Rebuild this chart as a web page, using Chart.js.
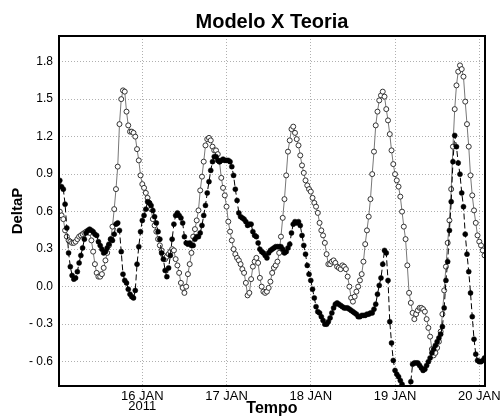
<!DOCTYPE html>
<html>
<head>
<meta charset="utf-8">
<script src="https://cdn.jsdelivr.net/npm/chart.js@4.4.1/dist/chart.umd.min.js"></script>
<style>
html,body{margin:0;padding:0;background:#fff;}
#wrap{width:503px;height:416px;position:relative;}
</style>
</head>
<body>
<div id="wrap"><canvas id="c" width="503" height="416"></canvas></div>
<script>
// ---- text ----
const chartTitle = 'Modelo X Teoria';
const xTitle = 'Tempo';
const yTitle = 'DeltaP';

// ---- x axis: hours counted from 15 JAN 2011 00:00 ----
const dayTicks = [24, 48, 72, 96, 120];
const dayLabels = [['16 JAN', '2011'], '17 JAN', '18 JAN', '19 JAN', '20 JAN'];
const firstHour = 0.5;   // first sample time (hours)
const stepHours = 0.5;   // sampling interval (hours)

// ---- Teoria (open circles), one array per day ----
const teoria15 = [0.60,0.57,0.54,0.45,0.40,0.37,0.36,0.35,0.35,0.36,0.38,0.40,0.41,0.42,0.43,0.44,0.44,0.43,0.37,0.28,0.18,0.11,0.08,0.08,0.10,0.15,0.21,0.27,0.33,0.38,0.48,0.62,0.78,0.96,1.30,1.50,1.57,1.56,1.40,1.29,1.24,1.24,1.23,1.20,1.10,1.01,0.89,0.82];
const teoria16 = [0.79,0.75,0.71,0.67,0.62,0.54,0.49,0.44,0.38,0.33,0.29,0.25,0.22,0.24,0.26,0.28,0.30,0.29,0.22,0.17,0.11,0.03,-0.01,-0.05,0.00,0.10,0.18,0.27,0.40,0.46,0.53,0.61,0.77,0.88,1.00,1.13,1.18,1.19,1.17,1.12,1.09,1.09,1.06,1.00,0.87,0.79,0.73,0.64];
const teoria17 = [0.52,0.44,0.37,0.30,0.26,0.23,0.21,0.18,0.14,0.11,0.03,-0.07,-0.05,0.06,0.16,0.20,0.23,0.19,0.07,0.00,-0.04,-0.05,-0.04,-0.01,0.04,0.11,0.15,0.17,0.20,0.27,0.40,0.55,0.70,0.89,1.08,1.17,1.26,1.28,1.23,1.18,1.13,1.05,0.97,0.91,0.85,0.81,0.78,0.76];
const teoria18 = [0.71,0.67,0.64,0.59,0.51,0.45,0.41,0.35,0.26,0.18,0.18,0.20,0.21,0.19,0.16,0.15,0.14,0.17,0.16,0.14,0.08,0.00,-0.09,-0.12,-0.08,-0.04,0.00,0.05,0.10,0.20,0.34,0.45,0.56,0.70,0.90,1.08,1.29,1.40,1.49,1.53,1.56,1.52,1.42,1.33,1.22,1.09,0.98,0.90];
const teoria19 = [0.85,0.80,0.72,0.60,0.48,0.38,0.17,-0.05,-0.13,-0.21,-0.26,-0.22,-0.19,-0.17,-0.17,-0.18,-0.20,-0.26,-0.33,-0.40,-0.50,-0.55,-0.53,-0.49,-0.44,-0.36,-0.22,-0.03,0.16,0.35,0.53,0.78,1.12,1.42,1.61,1.72,1.77,1.74,1.68,1.48,1.30,1.12,0.89,0.73,0.61,0.51,0.41,0.36,0.33,0.29,0.25];

// ---- Modelo (filled dots, dashed line), one array per day ----
const modelo15 = [0.85,0.80,0.78,0.66,0.47,0.27,0.16,0.09,0.06,0.07,0.12,0.19,0.25,0.31,0.38,0.43,0.45,0.46,0.45,0.44,0.42,0.41,0.36,0.33,0.30,0.27,0.28,0.31,0.34,0.38,0.37,0.42,0.50,0.51,0.45,0.28,0.10,0.05,0.03,-0.02,-0.06,-0.08,-0.09,-0.03,0.18,0.32,0.44,0.53];
const modelo16 = [0.57,0.62,0.68,0.67,0.65,0.61,0.56,0.51,0.44,0.38,0.27,0.22,0.13,0.08,0.15,0.25,0.38,0.50,0.57,0.59,0.57,0.55,0.51,0.40,0.35,0.34,0.35,0.33,0.33,0.38,0.40,0.40,0.43,0.49,0.57,0.65,0.75,0.84,0.93,1.00,1.04,1.04,1.01,1.00,1.01,1.02,1.01,1.01];
const modelo17 = [1.01,1.00,0.96,0.89,0.78,0.69,0.59,0.56,0.55,0.54,0.52,0.49,0.50,0.50,0.44,0.41,0.40,0.35,0.30,0.28,0.27,0.25,0.23,0.27,0.29,0.30,0.31,0.32,0.32,0.32,0.32,0.30,0.27,0.28,0.31,0.34,0.43,0.50,0.52,0.51,0.52,0.49,0.41,0.33,0.26,0.17,0.10,0.05];
const modelo18 = [-0.02,-0.09,-0.16,-0.20,-0.21,-0.24,-0.27,-0.30,-0.30,-0.28,-0.25,-0.21,-0.17,-0.14,-0.13,-0.14,-0.15,-0.16,-0.17,-0.17,-0.17,-0.18,-0.19,-0.20,-0.21,-0.22,-0.24,-0.24,-0.23,-0.23,-0.23,-0.22,-0.22,-0.21,-0.21,-0.18,-0.14,-0.06,0.01,0.07,0.18,0.29,0.27,0.05,-0.28,-0.45,-0.59,-0.67];
const modelo19 = [-0.70,-0.72,-0.75,-0.78,-0.82,-0.86,-0.87,-0.83,-0.76,-0.62,-0.61,-0.61,-0.61,-0.63,-0.65,-0.67,-0.66,-0.63,-0.60,-0.57,-0.53,-0.50,-0.47,-0.44,-0.41,-0.38,-0.32,-0.17,0.05,0.20,0.45,0.68,1.00,1.21,1.12,0.99,0.90,0.75,0.64,0.42,0.26,0.12,-0.05,-0.24,-0.42,-0.54,-0.59,-0.60,-0.60,-0.59,-0.57];

const teoria = [].concat(teoria15, teoria16, teoria17, teoria18, teoria19);
const modelo = [].concat(modelo15, modelo16, modelo17, modelo18, modelo19);
const toPoints = arr => arr.map((v, i) => ({x: firstHour + i * stepHours, y: v}));

const FONT = 'Liberation Sans, Arial, sans-serif';
const GRID = '#b0b0b0';

const framePlugin = {
  id: 'frame',
  afterDatasetsDraw(chart) {
    const {ctx, chartArea: a} = chart;
    ctx.save();
    ctx.strokeStyle = '#000';
    ctx.lineWidth = 2;
    ctx.strokeRect(a.left, a.top, a.right - a.left, a.bottom - a.top);
    ctx.restore();
  }
};

new Chart(document.getElementById('c'), {
  type: 'line',
  data: {
    datasets: [
      {
        label: 'Modelo',
        data: toPoints(modelo),
        borderColor: '#000',
        borderWidth: 1,
        borderDash: [6, 3],
        pointRadius: 2.5,
        pointBackgroundColor: '#000',
        pointBorderColor: '#000',
        pointBorderWidth: 0.5,
        tension: 0,
        fill: false
      },
      {
        label: 'Teoria',
        data: toPoints(teoria),
        borderColor: '#777',
        borderWidth: 1,
        pointRadius: 2.5,
        pointBackgroundColor: '#fff',
        pointBorderColor: '#333',
        pointBorderWidth: 1,
        tension: 0,
        fill: false
      }
    ]
  },
  options: {
    responsive: false,
    animation: false,
    devicePixelRatio: 1,
    events: [],
    layout: {padding: {left: 0, right: 18, top: 0, bottom: 0}},
    plugins: {
      legend: {display: false},
      tooltip: {enabled: false},
      title: {
        display: true, text: chartTitle, fullSize: false, color: '#000',
        font: {family: FONT, size: 20, weight: 'bold', lineHeight: 1.2},
        padding: {top: 10, bottom: 2}
      }
    },
    scales: {
      x: {
        type: 'linear', position: 'bottom', min: 0.27, max: 121.63,
        afterBuildTicks: s => { s.ticks = dayTicks.map(v => ({value: v})); },
        afterFit: s => { s.height = 30; s.paddingLeft = 0; s.paddingRight = 0; },
        grid: {color: GRID, lineWidth: 1, drawTicks: true, tickLength: 4, tickColor: GRID, tickBorderDash: [1, 2]},
        border: {display: false, dash: [1, 2]},
        ticks: {
          autoSkip: false, maxRotation: 0, minRotation: 0, padding: 1, color: '#000',
          font: {family: FONT, size: 13, lineHeight: 0.8},
          callback: (v, i) => dayLabels[i]
        },
        title: {
          display: true, text: xTitle, color: '#000',
          font: {family: FONT, size: 16, weight: 'bold', lineHeight: 1},
          padding: {top: 0, bottom: -1}
        }
      },
      y: {
        type: 'linear', position: 'left', min: -0.795, max: 2.005,
        afterFit: s => { s.width = 59; s.paddingTop = 0; s.paddingBottom = 0; },
        grid: {color: GRID, lineWidth: 1, drawTicks: false},
        border: {display: false, dash: [1, 2]},
        ticks: {
          stepSize: 0.3, includeBounds: false, padding: 6, color: '#000',
          font: {family: FONT, size: 12},
          callback: v => {
            const r = Math.round(v * 10) / 10;
            if (r < 0) return '- ' + Math.abs(r).toFixed(1);
            return Math.abs(r).toFixed(1);
          }
        },
        title: {
          display: true, text: yTitle, color: '#000',
          font: {family: FONT, size: 15, weight: 'bold', lineHeight: 1.2},
          padding: {top: 9, bottom: 0}
        }
      }
    }
  },
  plugins: [framePlugin]
});
</script>
</body>
</html>
